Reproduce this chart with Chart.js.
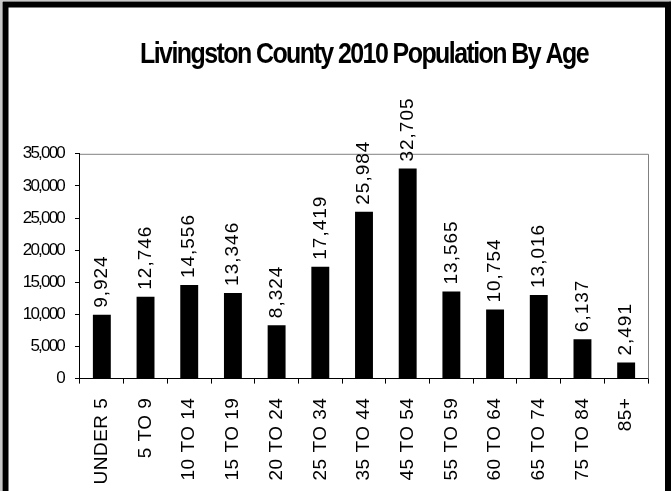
<!DOCTYPE html>
<html>
<head>
<meta charset="utf-8">
<script src="https://cdn.jsdelivr.net/npm/chart.js@4/dist/chart.umd.min.js"></script>
<style>
  html, body { margin: 0; padding: 0; background: #fff; }
  #grafico { display: block; }
</style>
</head>
<body>
<canvas id="grafico" width="671" height="491"></canvas>
<script>
const titolo = 'Livingston County 2010 Population By Age';
const ageGroups = ['UNDER 5', '5 TO 9', '10 TO 14', '15 TO 19', '20 TO 24', '25 TO 34',
  '35 TO 44', '45 TO 54', '55 TO 59', '60 TO 64', '65 TO 74', '75 TO 84', '85+'];
const population = [9924, 12746, 14556, 13346, 8324, 17419, 25984, 32705, 13565, 10754, 13016, 6137, 2491];
const yTicks = [0, 5000, 10000, 15000, 20000, 25000, 30000, 35000];

const FONT = '"Liberation Sans", Arial, sans-serif';

// wraps a draw method so the ctx can be tweaked (letter spacing, squeeze) just for it
function wrapDraw(obj, method, prep) {
  if (!obj || obj['_w_' + method]) return;
  const orig = obj[method];
  obj[method] = function (...args) {
    const ctx = this.ctx;
    ctx.save();
    prep.call(this, ctx);
    orig.apply(this, args);
    ctx.restore();
  };
  obj['_w_' + method] = true;
}

const tweakText = {
  id: 'tweakText',
  afterLayout(chart) {
    wrapDraw(chart.titleBlock, 'draw', function (ctx) {
      const cx = (this.left + this.right) / 2;
      const target = (chart.chartArea.left + chart.chartArea.right) / 2;
      ctx.letterSpacing = '-1.8px';
      ctx.translate(target, 0);
      ctx.scale(0.86, 1);
      ctx.translate(-cx, 0);
    });
    wrapDraw(chart.scales.y, 'drawLabels', function (ctx) {
      ctx.letterSpacing = '-1.8px';
    });
    wrapDraw(chart.scales.x, 'drawLabels', function (ctx) {
      ctx.letterSpacing = '0.5px';
    });
  }
};

const cornice = {
  id: 'cornice',
  beforeDatasetsDraw(chart) {
    const { ctx, chartArea } = chart;
    ctx.save();
    ctx.strokeStyle = '#808080';
    ctx.lineWidth = 1;
    ctx.beginPath();
    ctx.moveTo(chartArea.left, chartArea.top + 0.5);
    ctx.lineTo(chartArea.right + 0.5, chartArea.top + 0.5);
    ctx.lineTo(chartArea.right + 0.5, chartArea.bottom);
    ctx.stroke();
    ctx.restore();
  },
  afterDatasetsDraw(chart) {
    const ctx = chart.ctx;
    const meta = chart.getDatasetMeta(0);
    ctx.save();
    ctx.font = '19px ' + FONT;
    ctx.fillStyle = '#000';
    ctx.letterSpacing = '1px';
    ctx.textAlign = 'left';
    ctx.textBaseline = 'middle';
    meta.data.forEach((bar, i) => {
      ctx.save();
      ctx.translate(bar.x, bar.y - 7);
      ctx.rotate(-Math.PI / 2);
      ctx.fillText(population[i].toLocaleString('en-US'), 0, 0);
      ctx.restore();
    });
    ctx.restore();
  },
  afterDraw(chart) {
    const ctx = chart.ctx;
    ctx.save();
    ctx.strokeStyle = '#c8c8c8';
    ctx.lineWidth = 2;
    ctx.strokeRect(1, 0, 669, 600);
    ctx.strokeStyle = '#000';
    ctx.lineWidth = 6;
    ctx.strokeRect(5.5, 4.5, 662.5, 600);
    ctx.restore();
  }
};

const grafico = document.getElementById('grafico');

const myChart = new Chart(grafico, {
  type: 'bar',
  data: {
    labels: ageGroups,
    datasets: [{
      data: population,
      backgroundColor: '#000',
      borderWidth: 0,
      barPercentage: 0.41,
      categoryPercentage: 1.0
    }]
  },
  options: {
    responsive: false,
    animation: false,
    layout: { padding: { top: 8, left: 1, right: 23, bottom: -4 } },
    plugins: {
      legend: { display: false },
      tooltip: { enabled: false },
      title: {
        display: true,
        text: titolo,
        color: '#000',
        font: { family: FONT, size: 29, weight: 'bold' },
        padding: { top: 30, bottom: 81 }
      }
    },
    scales: {
      x: {
        offset: true,
        grid: { offset: true, drawOnChartArea: false, color: '#000', tickLength: 5 },
        border: { color: '#000' },
        ticks: {
          color: '#000',
          font: { family: FONT, size: 19 },
          maxRotation: 90,
          minRotation: 90,
          padding: 14,
          autoSkip: false
        }
      },
      y: {
        min: 0,
        max: 35000,
        afterBuildTicks: (scale) => { scale.ticks = yTicks.map(v => ({ value: v })); },
        grid: { drawOnChartArea: false, color: '#000', tickLength: 5 },
        border: { color: '#000' },
        ticks: {
          color: '#000',
          font: { family: FONT, size: 17 },
          padding: 11,
          callback: (v) => v.toLocaleString('en-US')
        }
      }
    }
  },
  plugins: [tweakText, cornice]
});
</script>
</body>
</html>
